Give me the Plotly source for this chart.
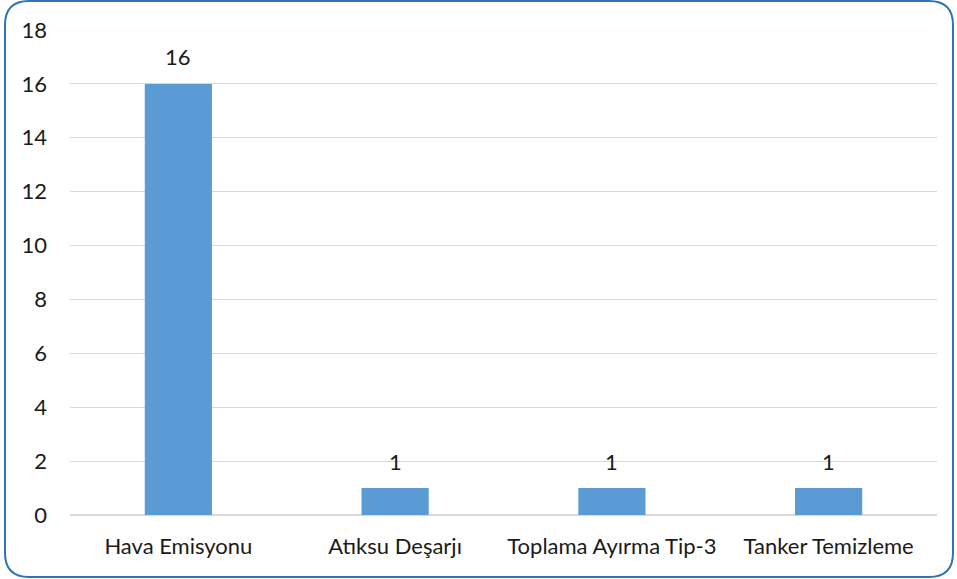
import plotly.graph_objects as go

categories = ["Hava Emisyonu", "Atıksu Deşarjı", "Toplama Ayırma Tip-3", "Tanker Temizleme"]
counts = [16, 1, 1, 1]
y_ticks = [0, 2, 4, 6, 8, 10, 12, 14, 16, 18]

W, H = 957, 579
ML, MR, MT, MB = 70, 20, 30, 64
PW, PH = W - ML - MR, H - MT - MB
FS = 22
TXT = "#1a1a1a"

fig = go.Figure()
fig.add_trace(go.Bar(
    x=categories, y=counts,
    marker=dict(color="#5B9BD5", line=dict(width=0)),
    width=0.31,
    hoverinfo="x+y",
))

# value labels above each bar
for c, v in zip(categories, counts):
    fig.add_annotation(x=c, y=v, text=str(v), showarrow=False,
                       yshift=27, font=dict(size=FS, color=TXT))

# rounded outer frame, expressed in paper coordinates
def P(x, y):
    return f"{(x - ML) / PW:.5f},{(H - MB - y) / PH:.5f}"

x0, x1, y0, y1, r = 5, 953, 1, 577, 24
path = (
    f"M {P(x0 + r, y0)} L {P(x1 - r, y0)} "
    f"Q {P(x1, y0)} {P(x1, y0 + r)} "
    f"L {P(x1, y1 - r)} Q {P(x1, y1)} {P(x1 - r, y1)} "
    f"L {P(x0 + r, y1)} Q {P(x0, y1)} {P(x0, y1 - r)} "
    f"L {P(x0, y0 + r)} Q {P(x0, y0)} {P(x0 + r, y0)} Z"
)
fig.add_shape(type="path", path=path, xref="paper", yref="paper",
              line=dict(color="#2E75B6", width=2), layer="above")

fig.update_layout(
    width=W, height=H,
    margin=dict(l=ML, r=MR, t=MT, b=MB),
    paper_bgcolor="white", plot_bgcolor="white",
    font=dict(family="Lato, Open Sans, sans-serif", size=FS, color=TXT),
    showlegend=False,
    xaxis=dict(showgrid=False, showline=True, linecolor="#D9D9D9", linewidth=1,
               ticks="", ticklabelstandoff=12, tickfont=dict(size=FS)),
    yaxis=dict(range=[0, 18], tickvals=y_ticks, showgrid=True, gridcolor="#D9D9D9",
               gridwidth=1, zeroline=True, zerolinecolor="#D9D9D9", showline=False,
               ticks="", ticklabelstandoff=22, tickfont=dict(size=FS)),
)

fig.write_html("out.html")
